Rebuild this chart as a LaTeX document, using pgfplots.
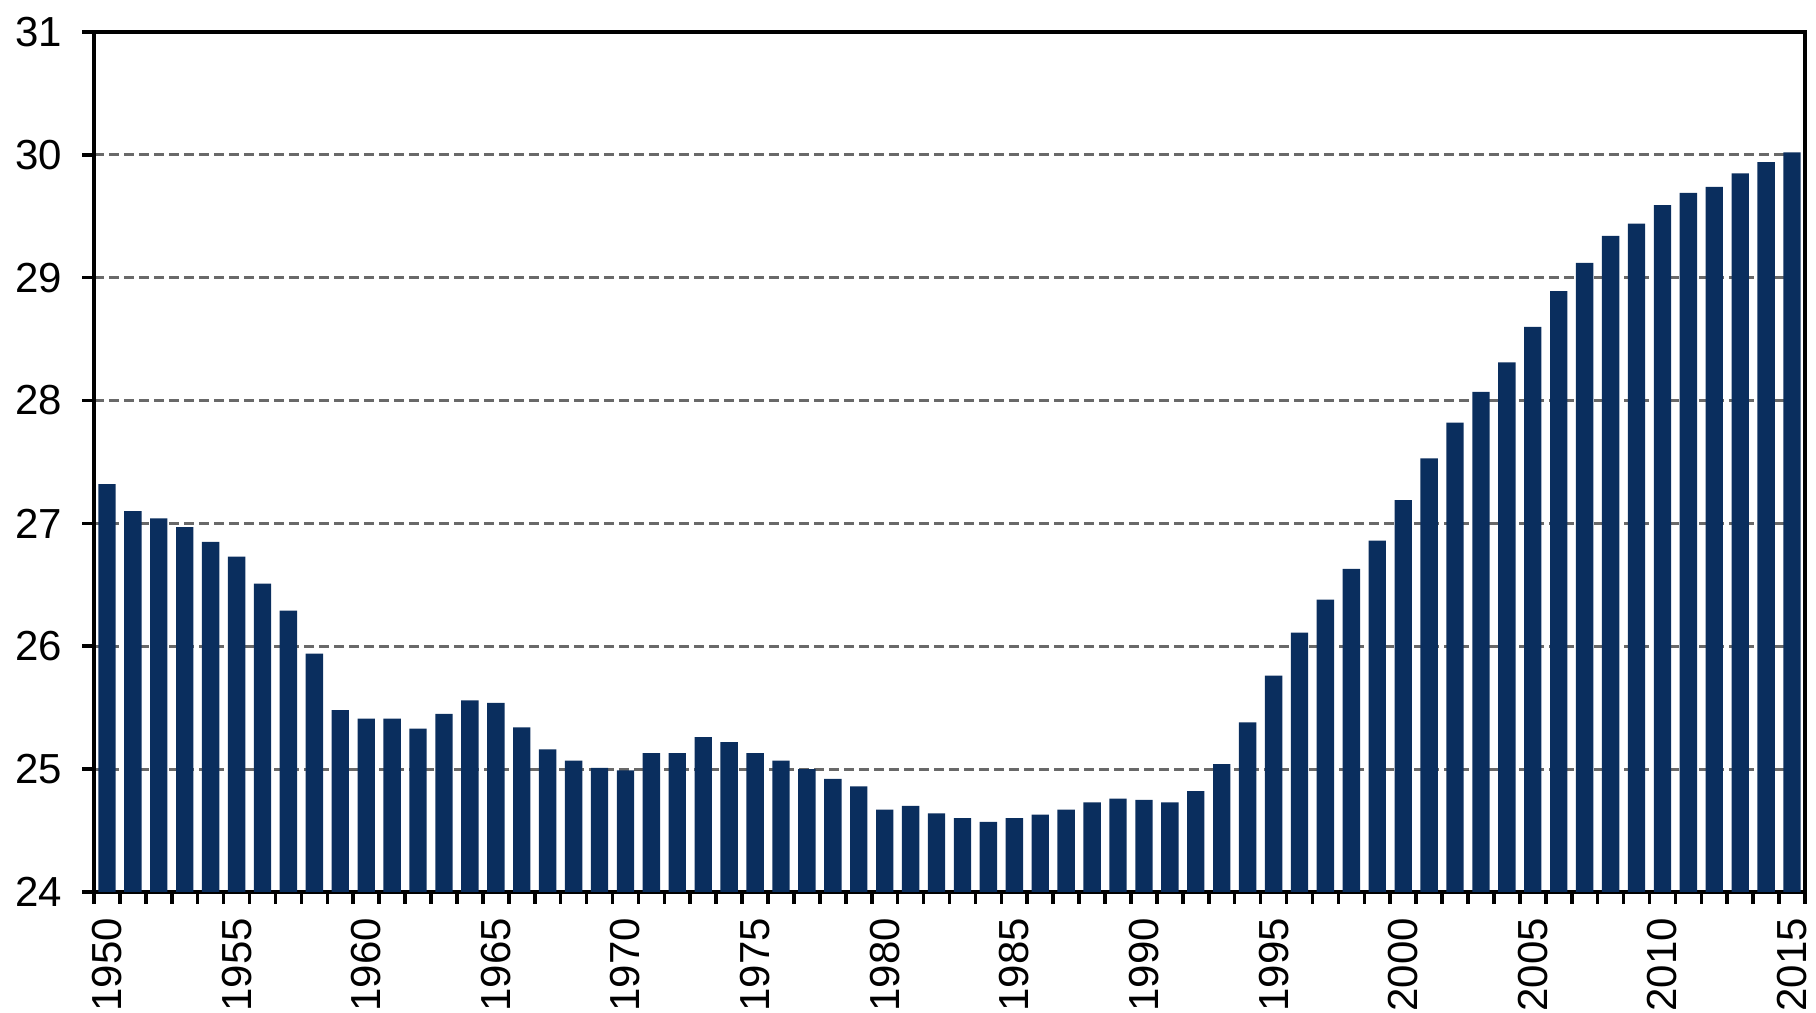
\documentclass[border=0pt]{standalone}
\usepackage{fontspec}
\setmainfont{Liberation Sans}
\usepackage{pgfplots}
\pgfplotsset{compat=1.18}
\definecolor{barnavy}{RGB}{10,46,94}
\definecolor{gridgray}{RGB}{105,105,105}

\begin{document}
\begin{tikzpicture}
	\begin{axis}[
		scale only axis,
		width=427.75pt, height=215pt,
		ybar, bar width=0.67, bar shift=0pt,
		xmin=1949.5, xmax=2015.5,
		ymin=24, ymax=31,
		ytick={24,25,...,31},
		xtick={1950,1955,...,2015},
		minor xtick={1949.5,1950.5,...,2015.5},
		tick align=outside,
		major tick length=3pt, minor tick length=3pt,
		major x tick style={draw=none},
		every tick/.style={black, line width=0.9pt},
		minor x tick style={black, line width=0.9pt},
		xtick pos=bottom, ytick pos=left,
		axis line style={line width=1pt},
		ymajorgrids,
		major grid style={gridgray, line width=0.7pt, dash pattern=on 2.5pt off 1.25pt},
		/pgf/number format/assume math mode=true,
		/pgf/number format/1000 sep={},
		tick label style={font=\fontsize{10.5}{12}\selectfont},
		xticklabel style={rotate=90, anchor=east},
		yticklabel style={xshift=-1.5pt},
	]
		\addplot[fill=barnavy, draw=none] coordinates {
			(1950,27.32) (1951,27.10) (1952,27.04) (1953,26.97) (1954,26.85)
			(1955,26.73) (1956,26.51) (1957,26.29) (1958,25.94) (1959,25.48)
			(1960,25.41) (1961,25.41) (1962,25.33) (1963,25.45) (1964,25.56)
			(1965,25.54) (1966,25.34) (1967,25.16) (1968,25.07) (1969,25.01)
			(1970,24.99) (1971,25.13) (1972,25.13) (1973,25.26) (1974,25.22)
			(1975,25.13) (1976,25.07) (1977,25.00) (1978,24.92) (1979,24.86)
			(1980,24.67) (1981,24.70) (1982,24.64) (1983,24.60) (1984,24.57)
			(1985,24.60) (1986,24.63) (1987,24.67) (1988,24.73) (1989,24.76)
			(1990,24.75) (1991,24.73) (1992,24.82) (1993,25.04) (1994,25.38)
			(1995,25.76) (1996,26.11) (1997,26.38) (1998,26.63) (1999,26.86)
			(2000,27.19) (2001,27.53) (2002,27.82) (2003,28.07) (2004,28.31)
			(2005,28.60) (2006,28.89) (2007,29.12) (2008,29.34) (2009,29.44)
			(2010,29.59) (2011,29.69) (2012,29.74) (2013,29.85) (2014,29.94)
			(2015,30.02)
		};
	\end{axis}
	\pgfresetboundingbox
	\path ([shift={(-23.5pt,-30.25pt)}]current axis.south west) rectangle ([shift={(2.75pt,8pt)}]current axis.north east);
\end{tikzpicture}
\end{document}
